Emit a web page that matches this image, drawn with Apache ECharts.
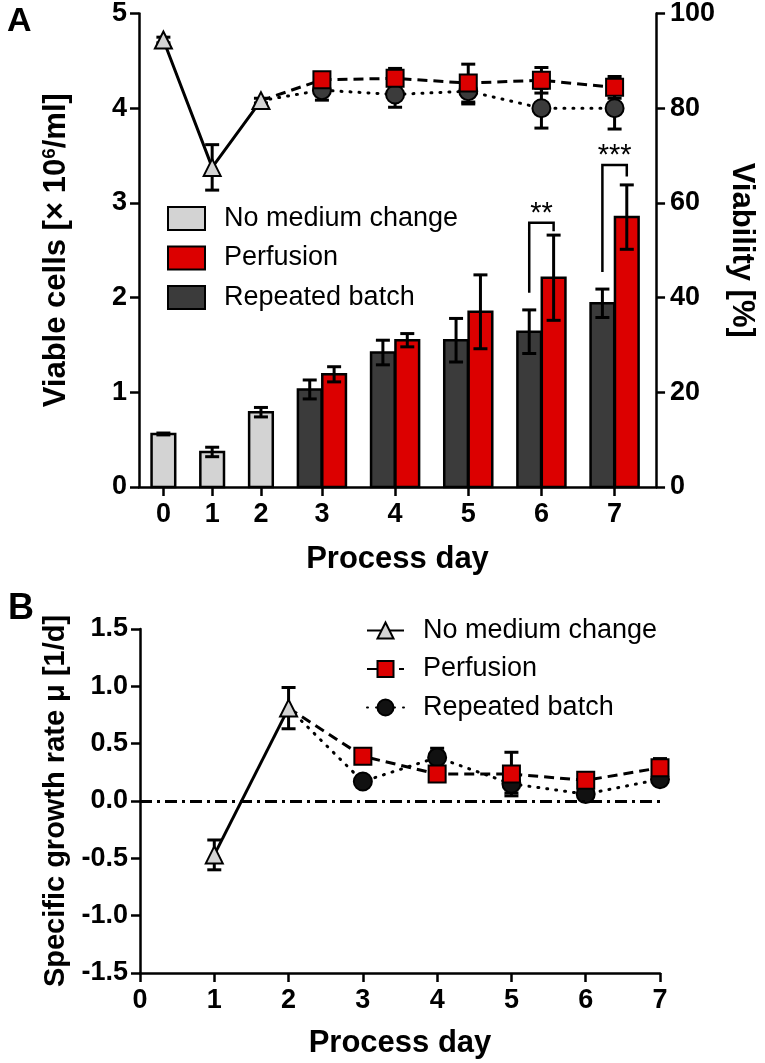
<!DOCTYPE html>
<html><head><meta charset="utf-8">
<script src="https://cdn.jsdelivr.net/npm/echarts@6/dist/echarts.min.js"></script>
<style>html,body{margin:0;padding:0;background:#fff}#c{width:765px;height:1063px}</style>
</head><body><div id="c"></div><script>
const FONT = '"Liberation Sans", Arial, Helvetica, sans-serif';

// ---------- data ----------
const days = [0, 1, 2, 3, 4, 5, 6, 7];
const nmcDays = [0, 1, 2];
const mediumDays = [3, 4, 5, 6, 7];
const names = ['No medium change', 'Perfusion', 'Repeated batch'];

// Panel A: viable cells [x10^6/ml] (bars)
const nmcCells = [0.56, 0.37, 0.79];
const nmcCellsErr = [0.01, 0.05, 0.05];
const rbCells = [1.03, 1.42, 1.55, 1.64, 1.94];
const rbCellsErr = [0.10, 0.13, 0.23, 0.23, 0.15];
const perfCells = [1.19, 1.55, 1.85, 2.21, 2.85];
const perfCellsErr = [0.08, 0.07, 0.39, 0.45, 0.34];

// Panel A: viability [%] (lines)
const nmcViab = [94.4, 67.5, 81.6];
const nmcViabErr = [0.6, 4.8, 0.5];
const perfViab = [86.0, 86.3, 85.3, 85.9, 84.4];
const perfViabErr = [1.5, 2.1, 4.0, 2.7, 2.3];
const rbViab = [83.8, 82.9, 83.6, 80.0, 80.0];
const rbViabErr = [2.1, 2.7, 2.7, 4.2, 4.4];

// significance brackets (panel A)
const sigDays = [6, 7];
const sigLabels = ['**', '***'];
const sigTop = [2.79, 3.40];
const sigLeftEnd = [2.05, 2.27];
const sigRightEnd = [2.70, 3.28];

// Panel B: specific growth rate [1/d]
const nmcMuDays = [1, 2];
const nmcMu = [-0.47, 0.81];
const nmcMuErr = [0.13, 0.18];
const perfMu = [0.39, 0.235, 0.235, 0.18, 0.29];
const perfMuErr = [0.02, 0.03, 0.19, 0.03, 0.08];
const rbMu = [0.17, 0.38, 0.15, 0.06, 0.19];
const rbMuErr = [0.02, 0.08, 0.08, 0.02, 0.04];

// ---------- layout of panel A x axis (grouped bars, GraphPad style) ----------
const BAR = 1, GAP = 1;
function barCount(d) { return (nmcDays.includes(d) ? 1 : 0) + (mediumDays.includes(d) ? 2 : 0); }
const dayPos = []; let acc = 0;
days.forEach(d => { const w = barCount(d) * BAR + GAP; dayPos.push(acc + w / 2); acc += w; });
const xMaxA = acc + 0.2;
const P = d => dayPos[days.indexOf(d)];

const colLight = '#d3d3d3', colRed = '#dc0000', colDark = '#3b3b3b';

const nmcBarData = nmcDays.map((d, i) => [P(d), nmcCells[i], nmcCellsErr[i]]);
const rbBarData = mediumDays.map((d, i) => [P(d) - BAR / 2, rbCells[i], rbCellsErr[i]]);
const perfBarData = mediumDays.map((d, i) => [P(d) + BAR / 2, perfCells[i], perfCellsErr[i]]);

function errGroup(api, x, y, e, cap) {
  const t = api.coord([x, y + e]), b = api.coord([x, y - e]);
  const st = { stroke: '#000', lineWidth: 3 };
  return [
    { type: 'line', shape: { x1: t[0], y1: t[1], x2: b[0], y2: b[1] }, style: st },
    { type: 'line', shape: { x1: t[0] - cap, y1: t[1], x2: t[0] + cap, y2: t[1] }, style: st },
    { type: 'line', shape: { x1: b[0] - cap, y1: b[1], x2: b[0] + cap, y2: b[1] }, style: st }
  ];
}
function barRender(fill) {
  return function (params, api) {
    const x = api.value(0), v = api.value(1), e = api.value(2);
    const w = BAR * 0.97;
    const p1 = api.coord([x - w / 2, v]), p2 = api.coord([x + w / 2, 0]);
    return { type: 'group', children: [
      { type: 'rect', shape: { x: p1[0], y: p1[1], width: p2[0] - p1[0], height: p2[1] - p1[1] },
        style: { fill: fill, stroke: '#000', lineWidth: 2.5 } }
    ].concat(errGroup(api, x, v, e, 7)) };
  };
}
function errRender(params, api) {
  return { type: 'group', children: errGroup(api, api.value(0), api.value(1), api.value(2), 7) };
}
function sigRender(params, api) {
  const i = params.dataIndex;
  const x = api.value(0);
  const l = api.coord([x - BAR / 2, api.value(2)]);
  const r = api.coord([x + BAR / 2, api.value(3)]);
  const tl = api.coord([x - BAR / 2, api.value(1)]);
  const tr = api.coord([x + BAR / 2, api.value(1)]);
  const st = { stroke: '#000', lineWidth: 2.5, fill: null };
  return { type: 'group', children: [
    { type: 'polyline', shape: { points: [l, tl, tr, r] }, style: st },
    { type: 'text', style: { text: sigLabels[i], x: (tl[0] + tr[0]) / 2, y: tl[1] - 9, align: 'center',
      verticalAlign: 'middle', fontSize: 29, fontFamily: FONT, fill: '#000' } }
  ] };
}

const viabNmcData = nmcDays.map((d, i) => [P(d), nmcViab[i]]);
const viabPerfData = [{ value: [P(2), nmcViab[2]], symbol: 'none' }].concat(mediumDays.map((d, i) => [P(d), perfViab[i]]));
const viabRbData = [{ value: [P(2), nmcViab[2]], symbol: 'none' }].concat(mediumDays.map((d, i) => [P(d), rbViab[i]]));

const muNmcData = nmcMuDays.map((d, i) => [d, nmcMu[i]]);
const muPerfData = [{ value: [2, nmcMu[1]], symbol: 'none' }].concat(mediumDays.map((d, i) => [d, perfMu[i]]));
const muRbData = [{ value: [2, nmcMu[1]], symbol: 'none' }].concat(mediumDays.map((d, i) => [d, rbMu[i]]));

const axisLine = { show: true, onZero: false, lineStyle: { color: '#000', width: 2.5 } };
const axisTick = { show: true, length: 9, lineStyle: { color: '#000', width: 2.5 } };
const tickFont = { color: '#000', fontSize: 27, fontWeight: 'bold', fontFamily: FONT };
const nameFont = { color: '#000', fontSize: 31, fontWeight: 'bold', fontFamily: FONT };

const triStyle = { color: colLight, borderColor: '#000', borderWidth: 2 };
const sqStyle = { color: colRed, borderColor: '#000', borderWidth: 2 };

const option = {
  backgroundColor: '#fff',
  animation: false,
  title: [
    { text: 'A', left: 2, top: 0, textStyle: { fontSize: 34, fontWeight: 'bold', fontFamily: FONT, color: '#000' } },
    { text: 'B', left: 3, top: 586, textStyle: { fontSize: 36, fontWeight: 'bold', fontFamily: FONT, color: '#000' } }
  ],
  grid: [
    { left: 139, top: 13, width: 524, height: 474 },
    { left: 140, top: 629, width: 520, height: 344 }
  ],
  xAxis: [
    { gridIndex: 0, type: 'value', min: 0, max: xMaxA,
      axisLine: axisLine, splitLine: { show: false },
      axisTick: Object.assign({}, axisTick, { customValues: dayPos }),
      axisLabel: Object.assign({}, tickFont, { customValues: dayPos, margin: 14,
        formatter: v => { const k = dayPos.findIndex(p => Math.abs(p - v) < 1e-6); return k >= 0 ? String(days[k]) : ''; } }),
      name: 'Process day', nameLocation: 'middle', nameGap: 57, nameTextStyle: nameFont },
    { gridIndex: 1, type: 'value', min: 0, max: 7, interval: 1,
      axisLine: axisLine, axisTick: axisTick, splitLine: { show: false },
      axisLabel: Object.assign({}, tickFont, { margin: 14 }),
      name: 'Process day', nameLocation: 'middle', nameGap: 55, nameTextStyle: nameFont }
  ],
  yAxis: [
    { gridIndex: 0, type: 'value', min: 0, max: 5, interval: 1, position: 'left',
      axisLine: axisLine, axisTick: axisTick, splitLine: { show: false },
      axisLabel: Object.assign({}, tickFont, { margin: 12 }),
      name: '{n|Viable cells [× 10}{s|6}{n|/ml]}', nameLocation: 'middle', nameGap: 67, nameRotate: 90,
      nameTextStyle: { rich: { n: Object.assign({}, nameFont, { lineHeight: 32 }),
        s: { color: '#000', fontSize: 19, fontWeight: 'bold', fontFamily: FONT, lineHeight: 32, verticalAlign: 'top' } } } },
    { gridIndex: 0, type: 'value', min: 0, max: 100, interval: 20, position: 'right',
      axisLine: axisLine, axisTick: axisTick, splitLine: { show: false },
      axisLabel: Object.assign({}, tickFont, { margin: 14 }),
      name: 'Viability [%]', nameLocation: 'middle', nameGap: 68, nameRotate: -90, nameTextStyle: nameFont },
    { gridIndex: 1, type: 'value', min: -1.5, max: 1.5, interval: 0.5,
      axisLine: axisLine, axisTick: axisTick, splitLine: { show: false },
      axisLabel: Object.assign({}, tickFont, { margin: 12, formatter: v => v.toFixed(1) }),
      name: 'Specific growth rate μ [1/d]', nameLocation: 'middle', nameGap: 70, nameRotate: 90,
      nameTextStyle: Object.assign({}, nameFont, { fontSize: 29 }) }
  ],
  legend: [
    { orient: 'vertical', left: 167, top: 205, itemWidth: 37, itemHeight: 23, itemGap: 12.5, padding: 0,
      selectedMode: false,
      textStyle: { fontSize: 27, fontFamily: FONT, color: '#000', padding: [0, 0, 0, 14] },
      data: [
        { name: names[0], icon: 'rect', itemStyle: { color: colLight, borderColor: '#000', borderWidth: 2 } },
        { name: names[1], icon: 'rect', itemStyle: { color: colRed, borderColor: '#000', borderWidth: 2 } },
        { name: names[2], icon: 'rect', itemStyle: { color: colDark, borderColor: '#000', borderWidth: 2 } }
      ] },
    { orient: 'vertical', left: 366, top: 617, itemWidth: 37, itemHeight: 20, itemGap: 11.5, padding: 0,
      selectedMode: false,
      formatter: n => n.replace('μ ', ''),
      textStyle: { fontSize: 27, fontFamily: FONT, color: '#000', padding: [0, 0, 0, 14] },
      data: ['μ ' + names[0], 'μ ' + names[1], 'μ ' + names[2]] }
  ],
  series: [
    // Panel A bars
    { name: names[0], type: 'custom', xAxisIndex: 0, yAxisIndex: 0, renderItem: barRender(colLight),
      data: nmcBarData, encode: { x: 0, y: 1 }, z: 1, itemStyle: { color: colLight } },
    { name: names[2], type: 'custom', xAxisIndex: 0, yAxisIndex: 0, renderItem: barRender(colDark),
      data: rbBarData, encode: { x: 0, y: 1 }, z: 1, itemStyle: { color: colDark } },
    { name: names[1], type: 'custom', xAxisIndex: 0, yAxisIndex: 0, renderItem: barRender(colRed),
      data: perfBarData, encode: { x: 0, y: 1 }, z: 1, itemStyle: { color: colRed } },
    { name: 'sig', type: 'custom', xAxisIndex: 0, yAxisIndex: 0, renderItem: sigRender,
      data: sigDays.map((d, i) => [P(d), sigTop[i], sigLeftEnd[i], sigRightEnd[i]]), encode: { x: 0, y: 1 }, z: 2 },
    // Panel A viability
    { name: 'vNMC', type: 'line', xAxisIndex: 0, yAxisIndex: 1, data: viabNmcData, z: 5,
      symbol: 'triangle', symbolSize: 17, itemStyle: triStyle, lineStyle: { color: '#000', width: 3 } },
    { name: 'vNMCerr', type: 'custom', xAxisIndex: 0, yAxisIndex: 1, renderItem: errRender, z: 4,
      data: nmcDays.map((d, i) => [P(d), nmcViab[i], nmcViabErr[i]]), encode: { x: 0, y: 1 } },
    { name: 'vRBerr', type: 'custom', xAxisIndex: 0, yAxisIndex: 1, renderItem: errRender, z: 4,
      data: mediumDays.map((d, i) => [P(d), rbViab[i], rbViabErr[i]]), encode: { x: 0, y: 1 } },
    { name: 'vRB', type: 'line', xAxisIndex: 0, yAxisIndex: 1, data: viabRbData, z: 4,
      symbol: 'circle', symbolSize: 18, itemStyle: { color: colDark, borderColor: '#000', borderWidth: 2 },
      lineStyle: { color: '#000', width: 3, type: [1, 8], cap: 'round' } },
    { name: 'vPerfErr', type: 'custom', xAxisIndex: 0, yAxisIndex: 1, renderItem: errRender, z: 4,
      data: mediumDays.map((d, i) => [P(d), perfViab[i], perfViabErr[i]]), encode: { x: 0, y: 1 } },
    { name: 'vPerf', type: 'line', xAxisIndex: 0, yAxisIndex: 1, data: viabPerfData, z: 4,
      symbol: 'rect', symbolSize: 17, itemStyle: sqStyle,
      lineStyle: { color: '#000', width: 3, type: [10, 6] } },
    // Panel B
    { name: 'muNMCerr', type: 'custom', xAxisIndex: 1, yAxisIndex: 2, renderItem: errRender, z: 4,
      data: nmcMuDays.map((d, i) => [d, nmcMu[i], nmcMuErr[i]]), encode: { x: 0, y: 1 } },
    { name: 'μ ' + names[0], type: 'line', xAxisIndex: 1, yAxisIndex: 2, data: muNmcData, z: 5,
      symbol: 'triangle', symbolSize: 17, itemStyle: triStyle, lineStyle: { color: '#000', width: 3 },
      markLine: { silent: true, symbol: 'none', label: { show: false },
        lineStyle: { color: '#000', width: 3, type: [12, 5, 3, 5] }, data: [{ yAxis: 0 }] } },
    { name: 'muRBerr', type: 'custom', xAxisIndex: 1, yAxisIndex: 2, renderItem: errRender, z: 4,
      data: mediumDays.map((d, i) => [d, rbMu[i], rbMuErr[i]]), encode: { x: 0, y: 1 } },
    { name: 'μ ' + names[2], type: 'line', xAxisIndex: 1, yAxisIndex: 2, data: muRbData, z: 4,
      symbol: 'circle', symbolSize: 18, itemStyle: { color: '#111', borderColor: '#000', borderWidth: 2 },
      lineStyle: { color: '#000', width: 3, type: [1, 8], cap: 'round' } },
    { name: 'muPerfErr', type: 'custom', xAxisIndex: 1, yAxisIndex: 2, renderItem: errRender, z: 4,
      data: mediumDays.map((d, i) => [d, perfMu[i], perfMuErr[i]]), encode: { x: 0, y: 1 } },
    { name: 'μ ' + names[1], type: 'line', xAxisIndex: 1, yAxisIndex: 2, data: muPerfData, z: 4,
      symbol: 'rect', symbolSize: 17, itemStyle: sqStyle,
      lineStyle: { color: '#000', width: 3, type: [10, 6] } }
  ]
};
const chart = echarts.init(document.getElementById('c'), null, { renderer: 'canvas' });
chart.setOption(option);
</script></body></html>
